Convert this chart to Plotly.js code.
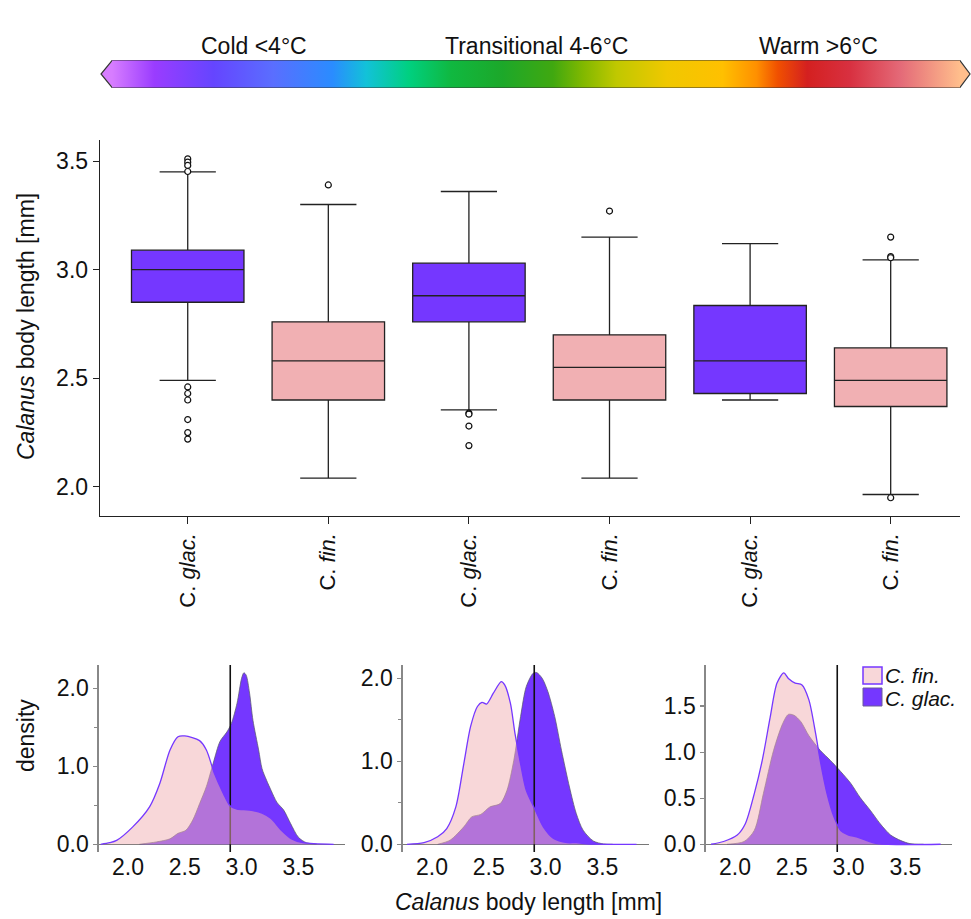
<!DOCTYPE html>
<html><head><meta charset="utf-8">
<script src="https://cdn.plot.ly/plotly-3.0.1.min.js"></script>
<style>html,body{margin:0;padding:0;background:#fff}#chart{width:971px;height:919px}</style>
</head><body><div id="chart"></div>
<script>
// ---------- DATA ----------
const temperatureClasses = ['Cold <4°C', 'Transitional 4-6°C', 'Warm >6°C'];
const boxPositions = [0, 1, 2, 3, 4, 5];
const boxTickText = ['C. <i>glac.</i>', 'C. <i>fin.</i>', 'C. <i>glac.</i>', 'C. <i>fin.</i>', 'C. <i>glac.</i>', 'C. <i>fin.</i>'];
const legendNames = ['C. fin.', 'C. glac.'];

// C. glacialis boxes (cold, transitional, warm)
const glacPos = [0, 2, 4];
const glacLower = [2.49, 2.355, 2.40];
const glacQ1 = [2.85, 2.76, 2.43];
const glacMedian = [3.00, 2.88, 2.58];
const glacQ3 = [3.09, 3.03, 2.835];
const glacUpper = [3.45, 3.36, 3.12];
const glacOutX = [0, 0, 0, 0, 0, 0, 0, 0, 0, 0, 2, 2, 2, 2];
const glacOutY = [3.51, 3.495, 3.48, 3.452, 2.46, 2.43, 2.40, 2.31, 2.25, 2.22, 2.34, 2.335, 2.28, 2.19];

// C. finmarchicus boxes
const finPos = [1, 3, 5];
const finLower = [2.04, 2.04, 1.965];
const finQ1 = [2.40, 2.40, 2.37];
const finMedian = [2.58, 2.55, 2.49];
const finQ3 = [2.76, 2.70, 2.64];
const finUpper = [3.30, 3.15, 3.045];
const finOutX = [1, 3, 5, 5, 5, 5];
const finOutY = [3.39, 3.27, 3.15, 3.06, 3.055, 1.95];

// density curves, cold
const coldFinX = [1.76, 1.84, 1.90, 2.04, 2.19, 2.28, 2.37, 2.44, 2.50, 2.63, 2.69, 2.76, 2.84, 2.90, 2.96, 3.07, 3.18, 3.26, 3.35, 3.44, 3.54, 3.81];
const coldFinY = [0.0, 0.02, 0.05, 0.22, 0.48, 0.78, 1.21, 1.38, 1.39, 1.33, 1.21, 0.91, 0.65, 0.49, 0.45, 0.44, 0.40, 0.33, 0.18, 0.07, 0.02, 0.0];
const coldGlacX = [2.10, 2.25, 2.37, 2.44, 2.51, 2.57, 2.63, 2.69, 2.75, 2.81, 2.87, 2.91, 2.96, 3.00, 3.02, 3.04, 3.07, 3.10, 3.15, 3.18, 3.22, 3.26, 3.31, 3.37, 3.43, 3.50, 3.57, 3.66];
const coldGlacY = [0.0, 0.03, 0.07, 0.14, 0.18, 0.31, 0.52, 0.74, 1.04, 1.32, 1.44, 1.55, 1.81, 2.13, 2.20, 2.17, 1.94, 1.59, 1.21, 0.97, 0.82, 0.69, 0.54, 0.44, 0.27, 0.09, 0.02, 0.0];

// density curves, transitional
const transFinX = [1.78, 1.93, 2.05, 2.13, 2.21, 2.28, 2.34, 2.40, 2.44, 2.48, 2.54, 2.61, 2.64, 2.69, 2.73, 2.78, 2.83, 2.91, 2.98, 3.07, 3.19, 3.27, 3.36, 3.80];
const transFinY = [0.0, 0.02, 0.09, 0.19, 0.45, 0.97, 1.42, 1.66, 1.71, 1.69, 1.82, 1.96, 1.92, 1.70, 1.34, 0.97, 0.65, 0.41, 0.21, 0.07, 0.02, 0.02, 0.004, 0.0];
const transGlacX = [2.05, 2.16, 2.28, 2.35, 2.43, 2.51, 2.60, 2.66, 2.72, 2.78, 2.83, 2.89, 2.92, 2.97, 3.02, 3.08, 3.14, 3.21, 3.27, 3.33, 3.42, 3.51, 3.59];
const transGlacY = [0.0, 0.05, 0.21, 0.33, 0.36, 0.45, 0.49, 0.65, 1.01, 1.54, 1.90, 2.06, 2.07, 2.00, 1.84, 1.54, 1.13, 0.69, 0.37, 0.17, 0.04, 0.004, 0.0];

// density curves, warm
const warmFinX = [1.79, 1.90, 2.02, 2.09, 2.17, 2.24, 2.31, 2.37, 2.43, 2.47, 2.53, 2.59, 2.65, 2.71, 2.75, 2.81, 2.87, 2.93, 3.00, 3.07, 3.16, 3.25, 3.81];
const warmFinY = [0.0, 0.03, 0.10, 0.22, 0.55, 0.91, 1.38, 1.75, 1.86, 1.80, 1.75, 1.73, 1.57, 1.20, 0.91, 0.55, 0.30, 0.15, 0.10, 0.08, 0.04, 0.007, 0.0];
const warmGlacX = [1.93, 2.08, 2.17, 2.25, 2.34, 2.42, 2.47, 2.52, 2.58, 2.65, 2.75, 2.84, 2.93, 3.02, 3.10, 3.19, 3.28, 3.37, 3.46, 3.54, 3.66];
const warmGlacY = [0.0, 0.03, 0.15, 0.55, 1.02, 1.31, 1.41, 1.40, 1.33, 1.18, 1.02, 0.91, 0.79, 0.66, 0.51, 0.37, 0.22, 0.10, 0.04, 0.007, 0.0];

const thresholdLength = 2.9; // vertical reference line [mm]

// ---------- STYLE ----------
const FONT = 'Liberation Sans, Arial, Helvetica, sans-serif';
const PURPLE = '#7537FF';
const PINK = '#F1B0B3';
const PINK_ALPHA = 'rgba(242,176,179,0.5)';
const X = px => px / 971;
const Y = py => 1 - py / 919;

const tempColorscale = [
  [0.00, '#D77DFF'], [0.05, '#9A3CFF'], [0.12, '#6545FF'], [0.19, '#5A6EFF'],
  [0.26, '#2A8CFF'], [0.30, '#12C2D8'], [0.35, '#00D080'], [0.40, '#10B840'],
  [0.46, '#1CA82A'], [0.52, '#40A810'], [0.555, '#80B800'], [0.595, '#C0C800'],
  [0.655, '#F0C800'], [0.72, '#FFC000'], [0.76, '#FF9000'], [0.785, '#F05000'],
  [0.82, '#D42020'], [0.87, '#D83040'], [0.93, '#E46A78'], [1.00, '#FFBE8C']
];

const traces = [];

// box plots
traces.push({
  type: 'box', x: glacPos, q1: glacQ1, median: glacMedian, q3: glacQ3,
  lowerfence: glacLower, upperfence: glacUpper, width: 0.8, whiskerwidth: 0.5,
  fillcolor: PURPLE, line: {color: '#222', width: 1.3}, xaxis: 'x', yaxis: 'y',
  showlegend: false, hoverinfo: 'skip'
});
traces.push({
  type: 'box', x: finPos, q1: finQ1, median: finMedian, q3: finQ3,
  lowerfence: finLower, upperfence: finUpper, width: 0.8, whiskerwidth: 0.5,
  fillcolor: PINK, line: {color: '#222', width: 1.3}, xaxis: 'x', yaxis: 'y',
  showlegend: false, hoverinfo: 'skip'
});
traces.push({
  type: 'scatter', mode: 'markers', x: glacOutX.concat(finOutX), y: glacOutY.concat(finOutY),
  marker: {symbol: 'circle', size: 6, color: '#fff', line: {color: '#111', width: 1.2}},
  xaxis: 'x', yaxis: 'y', showlegend: false, hoverinfo: 'skip'
});

// colour bar (temperature classes)
traces.push({
  type: 'scatter', mode: 'markers', x: [null], y: [null], xaxis: 'x', yaxis: 'y',
  showlegend: false, hoverinfo: 'skip',
  marker: {
    color: [0], cmin: 0, cmax: 1, colorscale: tempColorscale, showscale: true,
    colorbar: {
      orientation: 'h', x: X(536), xanchor: 'center', y: Y(74), yanchor: 'middle',
      len: 848, lenmode: 'pixels', thickness: 27, thicknessmode: 'pixels',
      xpad: 0, ypad: 0, outlinewidth: 0, showticklabels: false, ticks: ''
    }
  }
});

// density panels
const panels = [
  {fx: coldFinX, fy: coldFinY, gx: coldGlacX, gy: coldGlacY, xa: 'x2', ya: 'y2', yr: [-0.099, 2.30]},
  {fx: transFinX, fy: transFinY, gx: transGlacX, gy: transGlacY, xa: 'x3', ya: 'y3', yr: [-0.093, 2.16]},
  {fx: warmFinX, fy: warmFinY, gx: warmGlacX, gy: warmGlacY, xa: 'x4', ya: 'y4', yr: [-0.084, 1.946]}
];
panels.forEach(p => {
  traces.push({
    type: 'scatter', mode: 'lines', x: p.gx, y: p.gy, fill: 'tozeroy', fillcolor: PURPLE,
    line: {color: 'rgba(90,90,110,0.75)', width: 1, shape: 'spline', smoothing: 0.8},
    xaxis: p.xa, yaxis: p.ya, showlegend: false, hoverinfo: 'skip'
  });
  traces.push({
    type: 'scatter', mode: 'lines', x: [thresholdLength, thresholdLength], y: p.yr,
    line: {color: '#111', width: 1.6}, xaxis: p.xa, yaxis: p.ya, showlegend: false, hoverinfo: 'skip'
  });
  traces.push({
    type: 'scatter', mode: 'lines', x: p.fx, y: p.fy, fill: 'tozeroy', fillcolor: PINK_ALPHA,
    line: {color: PURPLE, width: 1.3, shape: 'spline', smoothing: 0.8},
    xaxis: p.xa, yaxis: p.ya, showlegend: false, hoverinfo: 'skip'
  });
});

const baseFont = {family: FONT, size: 23, color: '#111'};
const legendFont = {family: FONT, size: 21, color: '#111'};

function densX(d0, d1) {
  return {
    domain: [X(d0), X(d1)], anchor: 'free', position: Y(842), range: [1.745, 3.91],
    tickvals: [2.0, 2.5, 3.0, 3.5], tickformat: '.1f', ticks: 'outside', ticklen: 4,
    tickcolor: 'rgba(0,0,0,0)', showline: false, showgrid: false, zeroline: false,
    tickfont: baseFont
  };
}
function densY(range, dtick, anchor, minor) {
  const ax = {
    domain: [Y(852), Y(665)], anchor: anchor, range: range, dtick: dtick, tick0: 0,
    tickformat: '.1f', ticks: 'outside', ticklen: 4, tickcolor: '#888', tickwidth: 1.2,
    showline: true, linecolor: '#888', linewidth: 1.6, showgrid: false,
    zeroline: true, zerolinecolor: '#777', zerolinewidth: 1.5, tickfont: baseFont
  };
  if (minor) ax.minor = {dtick: 0.5, ticks: 'outside', ticklen: 3, tickcolor: '#888', showgrid: false};
  return ax;
}

const layout = {
  width: 971, height: 919, margin: {l: 0, r: 0, t: 0, b: 0},
  paper_bgcolor: '#fff', plot_bgcolor: 'rgba(0,0,0,0)', font: baseFont,
  showlegend: false, boxmode: 'overlay',
  xaxis: {
    domain: [X(100), X(960)], anchor: 'y', range: [-0.624, 5.493],
    tickvals: boxPositions, ticktext: boxTickText, tickangle: -90,
    ticks: 'outside', ticklen: 7, tickcolor: '#222', showline: true, linecolor: '#222',
    linewidth: 1.3, showgrid: false, zeroline: false, tickfont: {family: FONT, size: 22, color: '#111'}
  },
  yaxis: {
    domain: [Y(516), Y(140)], anchor: 'x', range: [1.866, 3.597],
    tickvals: [2.0, 2.5, 3.0, 3.5], tickformat: '.1f', ticks: 'outside', ticklen: 6,
    tickcolor: '#222', showline: true, linecolor: '#222', linewidth: 1.3,
    showgrid: false, zeroline: false, tickfont: baseFont
  },
  xaxis2: densX(99, 345),
  yaxis2: densY([-0.099, 2.30], 1, 'x2', true),
  xaxis3: densX(403, 649),
  yaxis3: densY([-0.093, 2.16], 1, 'x3', true),
  xaxis4: densX(706, 952),
  yaxis4: densY([-0.084, 1.946], 0.5, 'x4', false),
  annotations: [
    {text: temperatureClasses[0], x: X(254), y: Y(46), xref: 'paper', yref: 'paper', showarrow: false, font: baseFont, xanchor: 'center', yanchor: 'middle'},
    {text: temperatureClasses[1], x: X(536), y: Y(46), xref: 'paper', yref: 'paper', showarrow: false, font: baseFont, xanchor: 'center', yanchor: 'middle'},
    {text: temperatureClasses[2], x: X(818), y: Y(46), xref: 'paper', yref: 'paper', showarrow: false, font: baseFont, xanchor: 'center', yanchor: 'middle'},
    {text: '<i>Calanus</i> body length [mm]', textangle: -90, x: X(26), y: Y(327), xref: 'paper', yref: 'paper', showarrow: false, font: baseFont, xanchor: 'center', yanchor: 'middle'},
    {text: 'density', textangle: -90, x: X(26), y: Y(736), xref: 'paper', yref: 'paper', showarrow: false, font: baseFont, xanchor: 'center', yanchor: 'middle'},
    {text: '<i>Calanus</i> body length [mm]', x: X(528), y: Y(902), xref: 'paper', yref: 'paper', showarrow: false, font: baseFont, xanchor: 'center', yanchor: 'middle'},
    {text: '<i>' + legendNames[0] + '</i>', x: X(884), y: Y(675), xref: 'paper', yref: 'paper', showarrow: false, font: legendFont, xanchor: 'left', yanchor: 'middle', borderpad: 0},
    {text: '<i>' + legendNames[1] + '</i>', x: X(884), y: Y(698.8), xref: 'paper', yref: 'paper', showarrow: false, font: legendFont, xanchor: 'left', yanchor: 'middle', borderpad: 0}
  ],
  shapes: [
    // colour bar pointed ends
    {type: 'path', xref: 'paper', yref: 'paper', path: `M${X(112.5)},${Y(60.7)} L${X(101)},${Y(74)} L${X(112.5)},${Y(87.3)} Z`, fillcolor: '#D77DFF', line: {width: 0}},
    {type: 'path', xref: 'paper', yref: 'paper', path: `M${X(959.5)},${Y(60.7)} L${X(970)},${Y(74)} L${X(959.5)},${Y(87.3)} Z`, fillcolor: '#FFBE8C', line: {width: 0}},
    {type: 'path', xref: 'paper', yref: 'paper', path: `M${X(112)},${Y(60.7)} L${X(960)},${Y(60.7)} L${X(970)},${Y(74)} L${X(960)},${Y(87.3)} L${X(112)},${Y(87.3)} L${X(101)},${Y(74)} Z`, line: {color: '#333', width: 1.2}},
    // legend keys
    {type: 'rect', xref: 'paper', yref: 'paper', x0: X(863), x1: X(882), y0: Y(684), y1: Y(667), fillcolor: '#F8D7D9', line: {color: PURPLE, width: 1.5}},
    {type: 'rect', xref: 'paper', yref: 'paper', x0: X(863), x1: X(882), y0: Y(706), y1: Y(688), fillcolor: PURPLE, line: {color: '#6a5a9a', width: 1}}
  ]
};

Plotly.newPlot('chart', traces, layout, {displayModeBar: false, staticPlot: true});
</script>
</body></html>
